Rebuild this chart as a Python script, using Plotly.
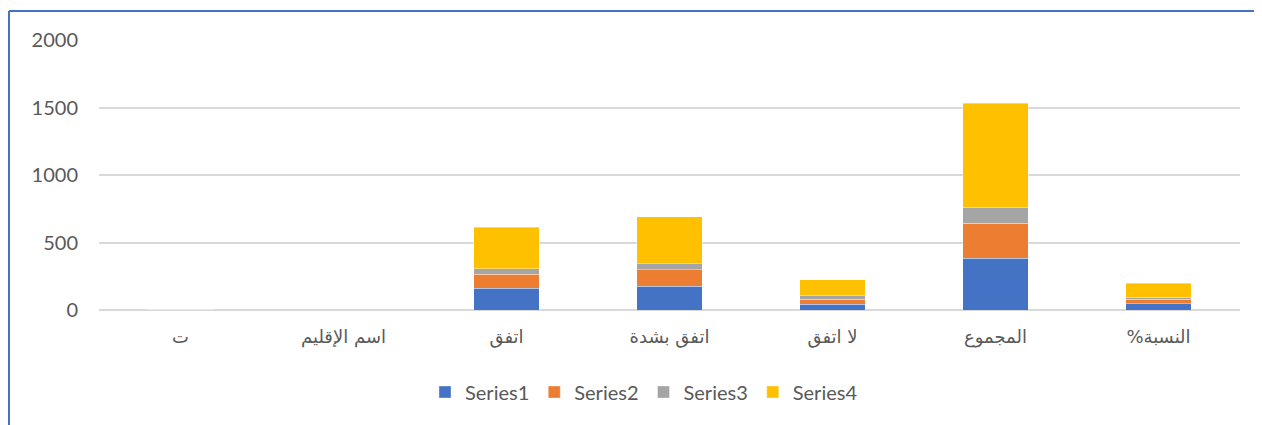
import plotly.graph_objects as go

categories = ["ت", "اسم الإقليم", "اتفق", "اتفق بشدة", "لا اتفق", "المجموع", "النسبة%"]
series1 = [1, 0, 161, 175, 43, 382, 46]
series2 = [2, 0, 103, 124, 37, 262, 32]
series3 = [3, 0, 40, 44, 28, 119, 15]
series4 = [4, 0, 309, 348, 116, 768, 104]
series_names = ["Series1", "Series2", "Series3", "Series4"]
colors = ["#4472C4", "#ED7D31", "#A5A5A5", "#FFC000"]

# right-to-left mark so the labels display as in an RTL context
tick_labels = [c + "\u200f" for c in categories]

OFF = 8  # default page body margin
W, H = 1262 - OFF, 425 - OFF
L, R, T = 99 - OFF, 22, 40 - OFF
B = H - (310 - OFF)

fig = go.Figure()
for name, vals, c in zip(series_names, [series1, series2, series3, series4], colors):
    fig.add_trace(go.Bar(x=categories, y=vals, name=name,
                         marker=dict(color=c, line=dict(width=0.6, color="rgba(255,255,255,0.6)"))))

pw = W - L - R
ph = H - T - B
def px_x(p):
    return (p - OFF - L) / pw
def px_y(p):
    return (H - B - (p - OFF)) / ph

fig.update_layout(
    width=W, height=H,
    margin=dict(l=L, r=R, t=T, b=B),
    barmode="stack", bargap=0.6,
    plot_bgcolor="white", paper_bgcolor="white",
    font=dict(family="Lato, Open Sans, DejaVu Sans", size=20, color="#595959"),
    xaxis=dict(showgrid=False, showline=False, ticks="", ticklabelstandoff=14,
               tickmode="array", tickvals=categories, ticktext=tick_labels,
               tickfont=dict(family="DejaVu Sans", size=18, color="#595959")),
    yaxis=dict(range=[0, 2000], tickvals=[0, 500, 1000, 1500, 2000], gridcolor="#D9D9D9", gridwidth=1.5,
               zeroline=True, zerolinecolor="#D9D9D9", zerolinewidth=1.5, showline=False, ticks="",
               ticklabelstandoff=20, tickfont=dict(size=20)),
    legend=dict(orientation="h", x=px_x(644), xanchor="center", y=px_y(392), yanchor="middle",
                font=dict(size=20, color="#595959"), traceorder="normal"),
    showlegend=True,
    shapes=[
        dict(type="line", xref="paper", yref="paper", x0=px_x(9), x1=px_x(9), y0=px_y(11), y1=px_y(440),
             line=dict(color="#4472C4", width=2)),
        dict(type="line", xref="paper", yref="paper", x0=px_x(9), x1=px_x(1280), y0=px_y(11), y1=px_y(11),
             line=dict(color="#4472C4", width=2)),
    ],
)

fig.write_html("out.html")
